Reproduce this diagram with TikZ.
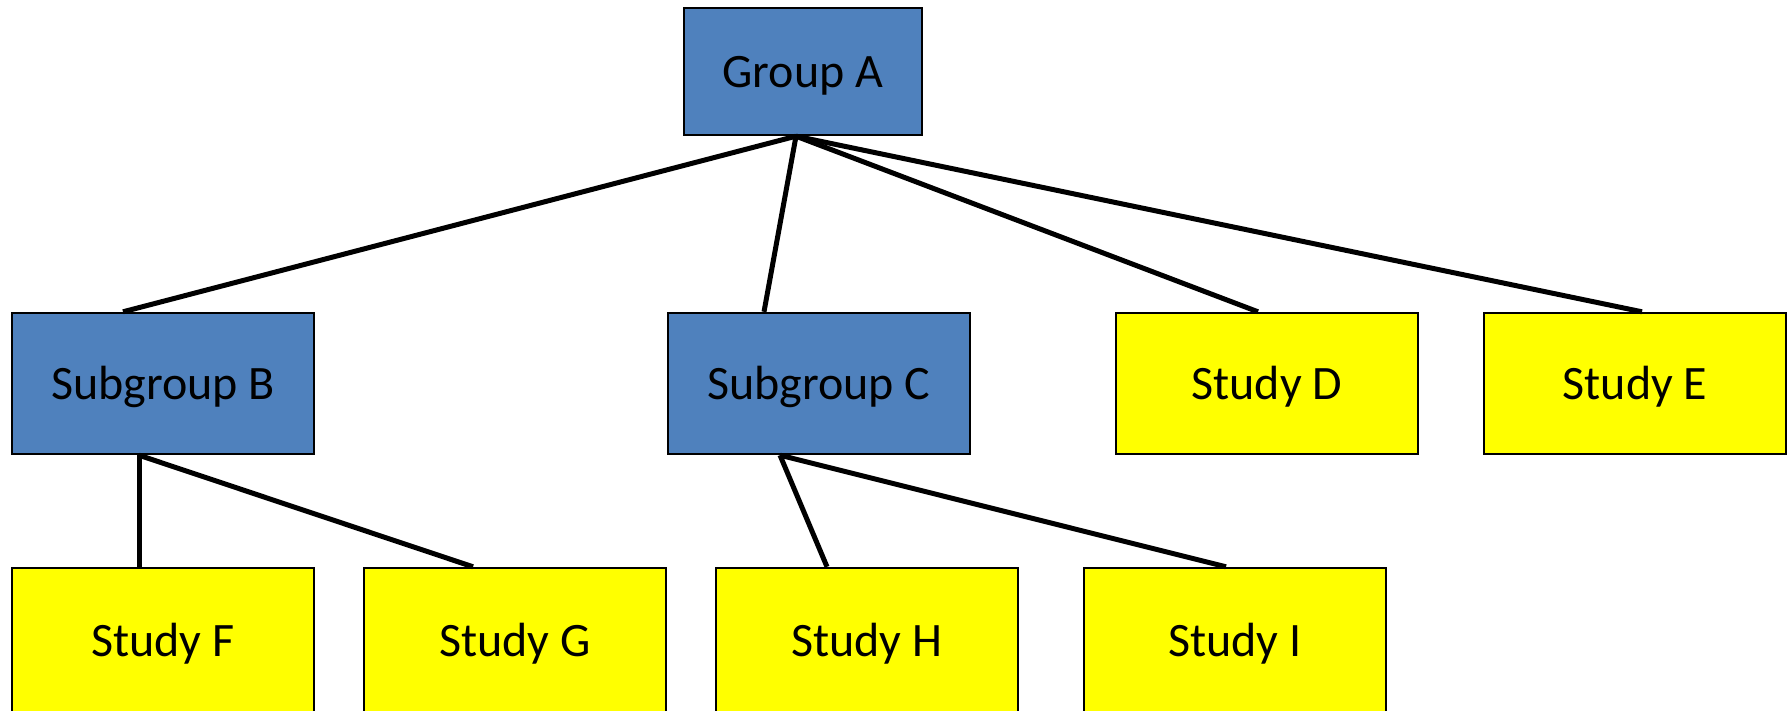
\documentclass[tikz,border=0pt]{standalone}
\usepackage{fontspec}
\setmainfont{Carlito}
\definecolor{groupblue}{HTML}{4F81BD}
\definecolor{studyyellow}{HTML}{FFFF00}
\tikzset{
  box/.style={draw=black, line width=2.4pt, rectangle, inner sep=0pt,
    font=\fontsize{48pt}{58pt}\selectfont, text=black,
    text height=32pt, text depth=0pt},
  groupbox/.style={box, fill=groupblue},
  studybox/.style={box, fill=studyyellow},
  wide/.style={minimum width=302pt, minimum height=141pt},
  tallbox/.style={minimum width=302pt, minimum height=160pt, text height=16pt},
  conn/.style={draw=black, line width=5pt}
}
\begin{document}
\begin{tikzpicture}[x=1pt, y=-1pt]
\useasboundingbox (0,0) rectangle (1791,711);
\fill[white] (0,0) rectangle (1791,711);
\begin{scope}
\clip (0,0) rectangle (1791,711);

% top level
\node[groupbox, minimum width=238pt, minimum height=127pt] (A) at (803,71.5) {Group A};

% second level
\node[groupbox, wide] (B) at (163,383.5) {Subgroup B};
\node[groupbox, wide] (C) at (819,383.5) {Subgroup C};
\node[studybox, wide] (D) at (1267,383.5) {Study D};
\node[studybox, wide] (E) at (1635,383.5) {Study E};

% third level (runs past the lower edge)
\node[studybox, tallbox] (F) at (163,648) {Study F};
\node[studybox, tallbox] (G) at (515,648) {Study G};
\node[studybox, tallbox] (H) at (867,648) {Study H};
\node[studybox, tallbox] (I) at (1235,648) {Study I};

% connectors
\draw[conn] ([xshift=-7pt]A.south) -- ([xshift=-40pt]B.north);
\draw[conn] ([xshift=-7pt]A.south) -- ([xshift=-55pt]C.north);
\draw[conn] ([xshift=-7pt]A.south) -- ([xshift=-9pt]D.north);
\draw[conn] ([xshift=-7pt]A.south) -- ([xshift=7pt]E.north);

\draw[conn] ([xshift=-24pt]B.south) -- ([xshift=-24pt]F.north);
\draw[conn] ([xshift=-24pt]B.south) -- ([xshift=-42pt]G.north);

\draw[conn] ([xshift=-39pt]C.south) -- ([xshift=-40pt]H.north);
\draw[conn] ([xshift=-39pt]C.south) -- ([xshift=-9pt]I.north);
\end{scope}
\end{tikzpicture}
\end{document}
